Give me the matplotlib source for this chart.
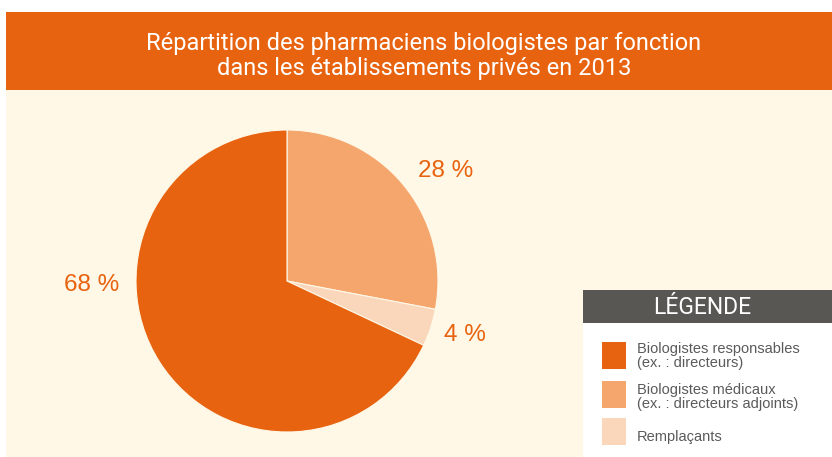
import matplotlib.pyplot as plt
from matplotlib.patches import Rectangle

# data
labels = ["Biologistes responsables\n(ex. : directeurs)",
          "Biologistes médicaux\n(ex. : directeurs adjoints)",
          "Remplaçants"]
shares = [68, 28, 4]
colors = ["#E8630F", "#F5A66C", "#FAD6BA"]
title = "Répartition des pharmaciens biologistes par fonction\ndans les établissements privés en 2013"

W, H = 832, 457
fig = plt.figure(figsize=(W / 100, H / 100), dpi=100)
fig.patch.set_facecolor("white")

# pixel-space background axes
bg = fig.add_axes([0, 0, 1, 1])
bg.set_xlim(0, W)
bg.set_ylim(H, 0)
bg.axis("off")
bg.add_patch(Rectangle((6, 90), W - 6, H - 90, color="#FFF8E7", lw=0))
bg.add_patch(Rectangle((6, 12), W - 6, 78, color="#E8630F", lw=0))
bg.text(424, 56, title, ha="center", va="center", color="white",
        fontsize=17, family="Roboto", linespacing=1.15)

# legend box
bg.add_patch(Rectangle((583, 290), W - 583, 33, color="#595754", lw=0))
bg.add_patch(Rectangle((583, 323), W - 583, H - 323, color="white", lw=0))
bg.text(702, 307, "LÉGENDE", ha="center", va="center", color="white",
        fontsize=16.5, family="Roboto")
sw_y = [342, 381, 418]
txt_y = [356, 397, 437]
for i in range(3):
    bg.add_patch(Rectangle((602, sw_y[i]), 24, 27, color=colors[i], lw=0))
    bg.text(637, txt_y[i], labels[i], ha="left", va="center", color="#5a5a5a",
            fontsize=10.5, family="Liberation Sans", linespacing=0.95)

# pie
cx, cy, r = 287, 281, 151
pax = fig.add_axes([(cx - r) / W, (H - cy - r) / H, 2 * r / W, 2 * r / H])
order = [1, 2, 0]
pax.pie([shares[i] for i in order], colors=[colors[i] for i in order],
        startangle=90, counterclock=False,
        wedgeprops=dict(linewidth=0.8, edgecolor="#FFF8E7"))
pax.set_xlim(-1, 1)
pax.set_ylim(-1, 1)
pax.axis("off")

pct_pos = {0: (92, 285), 1: (446, 171), 2: (465, 335)}
for i, (x, y) in pct_pos.items():
    bg.text(x, y, f"{shares[i]} %", ha="center", va="center", color="#E8630F",
            fontsize=17.5, family="Liberation Sans")

fig.savefig("out.png", dpi=100)
